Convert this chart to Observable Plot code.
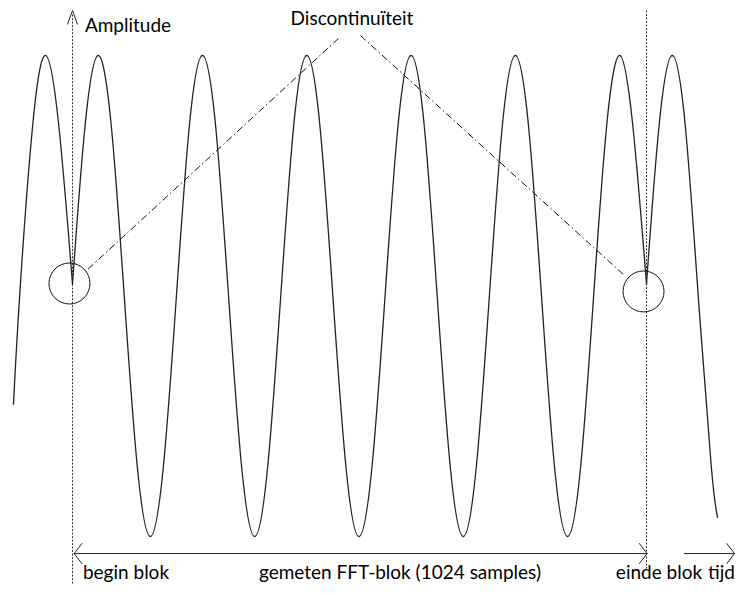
<!DOCTYPE html>
<html>
<head>
<meta charset="utf-8">
<script src="https://cdn.jsdelivr.net/npm/d3@7"></script>
<script src="https://cdn.jsdelivr.net/npm/@observablehq/plot@0.6"></script>
<style>
  html, body { margin: 0; padding: 0; background: #fff; }
</style>
</head>
<body>
<div id="chart"></div>
<script>
// Time axis in samples (block = 1024 samples), amplitude normalised to [-1, 1]
// Measured block (begin blok .. einde blok)
const blockT = [0, 22.5, 45.8, 69.1, 92.3, 115.6, 138.8, 162.1, 185.4, 208.6,
  231.9, 255.2, 278.4, 301.7, 325.0, 348.2, 371.5, 394.7, 418.0, 441.3,
  464.5, 487.8, 511.0, 534.3, 557.6, 580.8, 604.1, 627.4, 650.6, 673.9,
  697.1, 720.4, 743.7, 766.9, 790.1, 813.4, 836.7, 859.9, 883.2, 906.5,
  929.7, 953.0, 976.2, 999.5, 1024];
const blockA = [0.05, 0.71, 1, 0.71, 0, -0.71, -1, -0.71, 0, 0.71,
  1, 0.71, 0, -0.71, -1, -0.71, 0, 0.71, 1, 0.71,
  0, -0.71, -1, -0.71, 0, 0.71, 1, 0.71, 0, -0.71,
  -1, -0.71, 0, 0.71, 1, 0.71, 0, -0.71, -1, -0.71,
  0, 0.71, 1, 0.71, 0.05];
// Repeated signal before the block
const preT = [-105.3, -94.3, -71.0, -47.8, -24.5, 0];
const preA = [-0.45, 0, 0.71, 1, 0.71, 0.05];
// Repeated signal after the block
const postT = [1024, 1046.5, 1069.8, 1093.1, 1116.3, 1139.6, 1150.7];
const postA = [0.05, 0.71, 1, 0.71, 0, -0.71, -0.92];

// Annotations (data units)
const blockEdges = [0, 1024];
const edgeTop = [1.17, 1.187];
const edgeBottom = [-1.196, -1.133];
const circleT = [-5.4, 1018.7];
const circleA = [0.052, 0.019];
const pointerT1 = [474.5, 513.8];
const pointerA1 = [1.071, 1.083];
const pointerT2 = [23.2, 983.0];
const pointerA2 = [0.102, 0.089];
const spanA = -1.071;
const spanMid = 512;
const spanEnds = [3, 1025];
const timeArrowT = [1091.8, 1181.0];
const caretApexA = 1.187;
const caretArmT = [-8.9, 8.9];
const caretArmA = 1.129;

const labels = ["Amplitude", "Discontinuïteit", "begin blok", "gemeten FFT-blok (1024 samples)", "einde blok", "tijd"];
const labelT = [99.0, 498.6, 95.4, 584.2, 1046.3, 1157.8];
const labelA = [1.096, 1.125, -1.175, -1.175, -1.175, -1.175];

const toRows = (seg, ts, as) => ts.map((t, i) => ({seg, t, a: as[i]}));
const wave = [
  ...toRows("pre", preT, preA),
  ...toRows("block", blockT, blockA),
  ...toRows("post", postT, postA)
];
const edges = blockEdges.map((t, i) => ({t, a1: edgeTop[i], a2: edgeBottom[i]}));
const circles = circleT.map((t, i) => ({t, a: circleA[i]}));
const pointers = pointerT1.map((t, i) => ({t1: t, a1: pointerA1[i], t2: pointerT2[i], a2: pointerA2[i]}));
const arrows = [
  ...spanEnds.map((t) => ({t1: spanMid, t2: t, a: spanA})),
  {t1: timeArrowT[0], t2: timeArrowT[1], a: spanA}
];
const caret = caretArmT.map((t) => ({t1: 0, a1: caretApexA, t2: t, a2: caretArmA}));
const labelRows = labels.map((s, i) => ({label: s, t: labelT[i], a: labelA[i]}));

const font = "Lato, 'Open Sans', sans-serif";

const chart = Plot.plot({
  width: 742,
  height: 595,
  margin: 0,
  style: {background: "white", overflow: "visible"},
  x: {domain: [0, 1024], range: [72, 646], axis: null},
  y: {domain: [-1, 1], range: [536, 55], axis: null},
  marks: [
    Plot.link(edges, {x1: "t", x2: "t", y1: "a1", y2: "a2", stroke: "#333", strokeWidth: 1, strokeDasharray: "2 1.5"}),
    Plot.line(wave, {x: "t", y: "a", z: "seg", curve: "natural", stroke: "#222", strokeWidth: 1.3}),
    Plot.dot(circles, {x: "t", y: "a", r: 20.5, stroke: "#111", fill: "none", strokeWidth: 1}),
    Plot.link(pointers, {x1: "t1", y1: "a1", x2: "t2", y2: "a2", stroke: "#111", strokeWidth: 1, strokeDasharray: "7 3 1.5 3"}),
    Plot.arrow(arrows, {x1: "t1", x2: "t2", y1: "a", y2: "a", stroke: "#222", strokeWidth: 1, headAngle: 105, headLength: 19}),
    Plot.link(caret, {x1: "t1", y1: "a1", x2: "t2", y2: "a2", stroke: "#222", strokeWidth: 1}),
    Plot.text(labelRows, {x: "t", y: "a", text: "label", textAnchor: "middle", lineAnchor: "bottom", fontSize: 19, fontFamily: font, fill: "#000"})
  ]
});
document.getElementById("chart").appendChild(chart);
</script>
</body>
</html>
